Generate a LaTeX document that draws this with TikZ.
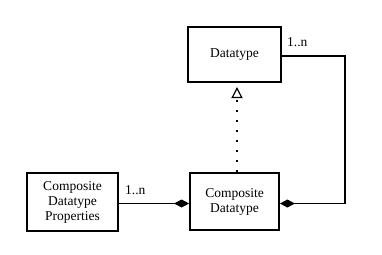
\documentclass[tikz,border=0pt]{standalone}
\usepackage{fontspec}
\setmainfont{Liberation Serif}
\usetikzlibrary{arrows.meta}
\begin{document}
\begin{tikzpicture}[x=1pt,y=-1pt,
  cls/.style={draw,line width=1.8pt,minimum width=#1,align=center,inner sep=0pt,font=\fontsize{13.5}{15}\selectfont},
  conn/.style={line width=1.4pt},
  lbl/.style={font=\fontsize{13.5}{15}\selectfont,inner sep=0pt}]
\useasboundingbox (0,0) rectangle (382,254);
\node[cls=93pt,minimum height=55pt] (dt) at (234.5,54.5) {Datatype};
\node[cls=89pt,minimum height=57pt] (cd) at (234.5,201.5) {Composite\\Datatype};
\node[cls=91pt,minimum height=58pt] (cdp) at (72.5,202) {Composite\\Datatype\\Properties};
\coordinate (c1) at (345,56);
\coordinate (c2) at (345,203.5);
\draw[conn,-{Diamond[length=15pt,width=8pt]}] (cdp.east |- 0,203.5) -- (cd.west |- 0,203.5);
\draw[conn,-{Diamond[length=15pt,width=8pt]}] (dt.east |- 0,56) -- (c1) -- (c2) -- (cd.east |- 0,203.5);
\coordinate (ta) at (237,173);
\coordinate (tb) at (237,82);
\draw[line width=1.4pt,dash pattern=on 2pt off 8pt,dash phase=-1pt,shorten >=5pt,-{Triangle[open,length=11pt,width=11pt,line width=1.2pt]}] (ta) -- (tb);
\node[lbl,anchor=west] (l1) at (125,190) {1..n};
\node[lbl,anchor=west] (l2) at (287,42) {1..n};
\end{tikzpicture}
\end{document}
